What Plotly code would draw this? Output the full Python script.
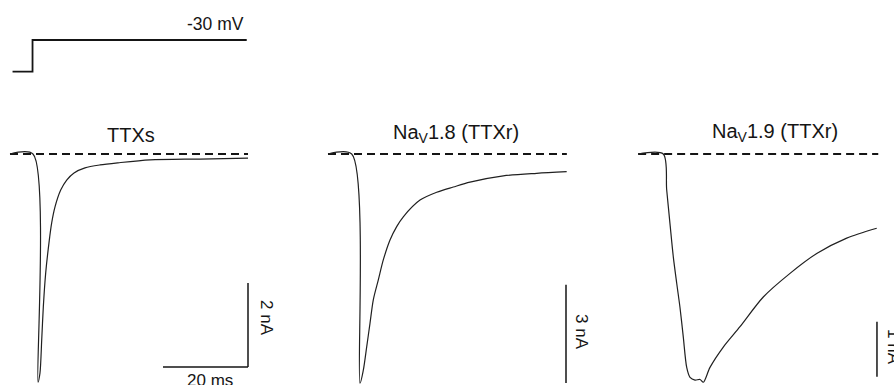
import plotly.graph_objects as go

# ---------------- data (ms, nA, mV) ----------------
stim_t = [0.6, 5.3, 5.3, 55.7]
stim_v = [-80, -80, -30, -30]
stim_label = "-30 mV"

titles = ["TTXs", "Na<sub>V</sub>1.8 (TTXr)", "Na<sub>V</sub>1.9 (TTXr)"]

ttxs_t = [0.0, 5.41, 6.59, 7.06, 7.46, 7.84, 8.40, 9.25, 9.81, 10.59, 11.93, 13.34,
          15.06, 17.65, 21.18, 25.41, 32.94, 44.71, 56.0]
ttxs_i = [0.0, 0.0, -5.43, -5.21, -4.43, -3.64, -2.83, -2.05, -1.64, -1.26, -0.86, -0.62,
          -0.45, -0.33, -0.26, -0.21, -0.14, -0.12, -0.10]

nav18_t = [0.0, 5.58, 7.53, 8.31, 9.11, 9.88, 10.66, 11.84, 13.01, 14.59, 16.16, 17.72,
           21.65, 25.58, 29.48, 33.41, 41.25, 49.11, 56.16]
nav18_i = [0.0, 0.0, -7.01, -6.61, -5.89, -5.18, -4.46, -3.85, -3.24, -2.63, -2.22, -1.92,
           -1.41, -1.17, -1.01, -0.86, -0.67, -0.59, -0.54]

nav19_t = [0.5, 6.42, 7.22, 8.0, 8.78, 9.58, 10.35, 11.13, 11.93, 12.71, 13.88, 15.06,
           15.84, 17.41, 20.54, 24.47, 29.95, 36.24, 42.52, 49.58, 56.64]
nav19_i = [0.0, 0.0, -0.65, -1.27, -1.87, -2.35, -2.79, -3.33, -3.88, -4.06, -4.11, -4.10,
           -4.15, -3.88, -3.51, -3.14, -2.60, -2.17, -1.81, -1.53, -1.35]

baseline_end = [56.0, 56.2, 57.0]
baseline_start = [0.0, 0.0, 0.5]

# scale bars
time_bar_ms = 20
time_bar_end = 56.0
amp_bars_nA = [2, 3, 1]
amp_bar_top = [-3.07, -4.0, -3.05]
amp_bar_x = [56.0, 56.0, 56.7]

# ---------------- pixel geometry (layout only) ----------------
W, H = 894, 385
PX_PER_MS = 4.25
panels = [
    dict(x0=10, base_py=154, px_per_nA=42.0, dom_x=(0, 300), dom_y=(115, 385)),
    dict(x0=328, base_py=154, px_per_nA=32.7, dom_x=(310, 610), dom_y=(115, 385)),
    dict(x0=636, base_py=154, px_per_nA=55.0, dom_x=(620, 894), dom_y=(115, 385)),
]
stim_geom = dict(x0=10, base_py=71.7, base_v=-80, px_per_mV=0.634, dom_x=(0, 300), dom_y=(0, 110))

FONT = "Arial, 'Liberation Sans', sans-serif"
INK = "#151515"

fig = go.Figure()
layout = dict(width=W, height=H, margin=dict(l=0, r=0, t=0, b=0),
              paper_bgcolor="white", plot_bgcolor="rgba(0,0,0,0)", showlegend=False,
              font=dict(family=FONT, color=INK))
annotations = []


def px_to_t(px, x0):
    return (px - x0) / PX_PER_MS


def add_axes(n, g, yfun):
    xa = "xaxis" if n == 1 else f"xaxis{n}"
    ya = "yaxis" if n == 1 else f"yaxis{n}"
    dx0, dx1 = g["dom_x"]
    dy0, dy1 = g["dom_y"]
    layout[xa] = dict(domain=[dx0 / W, dx1 / W],
                      range=[px_to_t(dx0, g["x0"]), px_to_t(dx1, g["x0"])],
                      visible=False, fixedrange=True, anchor=("y" if n == 1 else f"y{n}"))
    layout[ya] = dict(domain=[1 - dy1 / H, 1 - dy0 / H],
                      range=[yfun(dy1), yfun(dy0)],
                      visible=False, fixedrange=True, anchor=("x" if n == 1 else f"x{n}"))


# stimulus
sg = stim_geom
add_axes(1, sg, lambda py: sg["base_v"] + (sg["base_py"] - py) / sg["px_per_mV"])
fig.add_trace(go.Scatter(x=stim_t, y=stim_v, mode="lines", xaxis="x", yaxis="y",
                         line=dict(color=INK, width=1.8), hoverinfo="skip"))
annotations.append(dict(x=px_to_t(246, sg["x0"]), y=sg["base_v"] + (sg["base_py"] - 23.5) / sg["px_per_mV"],
                        xref="x", yref="y", text=stim_label, showarrow=False,
                        xanchor="right", yanchor="middle", font=dict(size=17.5)))

traces = [(ttxs_t, ttxs_i), (nav18_t, nav18_i), (nav19_t, nav19_i)]
title_px = [(131, 135), (456, 133), (775, 132)]
amp_label_px = [(267, 318), (582, 332), (894, 347)]

for k, g in enumerate(panels):
    n = k + 2
    xr, yr = f"x{n}", f"y{n}"
    yfun = (lambda gg: (lambda py: (gg["base_py"] - py) / gg["px_per_nA"]))(g)
    add_axes(n, g, yfun)
    # dashed zero line
    fig.add_trace(go.Scatter(x=[baseline_start[k], baseline_end[k]], y=[0, 0], mode="lines",
                             xaxis=xr, yaxis=yr, hoverinfo="skip",
                             line=dict(color=INK, width=2, dash="8px,5px")))
    # current trace
    t, i = traces[k]
    fig.add_trace(go.Scatter(x=t, y=i, mode="lines", xaxis=xr, yaxis=yr, hoverinfo="skip",
                             line=dict(color="#202020", width=1.2, shape="spline", smoothing=0.8)))
    # amplitude scale bar
    fig.add_trace(go.Scatter(x=[amp_bar_x[k], amp_bar_x[k]],
                             y=[amp_bar_top[k], amp_bar_top[k] - amp_bars_nA[k]],
                             mode="lines", xaxis=xr, yaxis=yr, hoverinfo="skip",
                             line=dict(color=INK, width=1.5)))
    # title
    annotations.append(dict(x=px_to_t(title_px[k][0], g["x0"]), y=yfun(title_px[k][1]),
                            xref=xr, yref=yr, text=titles[k], showarrow=False,
                            xanchor="center", yanchor="middle", font=dict(size=20)))
    # amplitude label
    ax_, ay_ = amp_label_px[k]
    annotations.append(dict(x=px_to_t(ax_, g["x0"]), y=yfun(ay_), xref=xr, yref=yr,
                            text=f"{amp_bars_nA[k]} nA", showarrow=False, textangle=90,
                            xanchor="center", yanchor="middle", font=dict(size=17)))
    if k == 0:
        bar_y = amp_bar_top[0] - amp_bars_nA[0]
        fig.add_trace(go.Scatter(x=[time_bar_end - time_bar_ms, time_bar_end], y=[bar_y, bar_y],
                                 mode="lines", xaxis=xr, yaxis=yr, hoverinfo="skip",
                                 line=dict(color=INK, width=1.5)))
        annotations.append(dict(x=px_to_t(210, g["x0"]), y=yfun(380), xref=xr, yref=yr,
                                text=f"{time_bar_ms} ms", showarrow=False,
                                xanchor="center", yanchor="middle", font=dict(size=17)))

layout["annotations"] = annotations
fig.update_layout(**layout)
fig.write_html("out.html", config={"displayModeBar": False, "staticPlot": True},
               post_script="document.body.style.margin='0px';document.body.style.overflow='hidden';")
